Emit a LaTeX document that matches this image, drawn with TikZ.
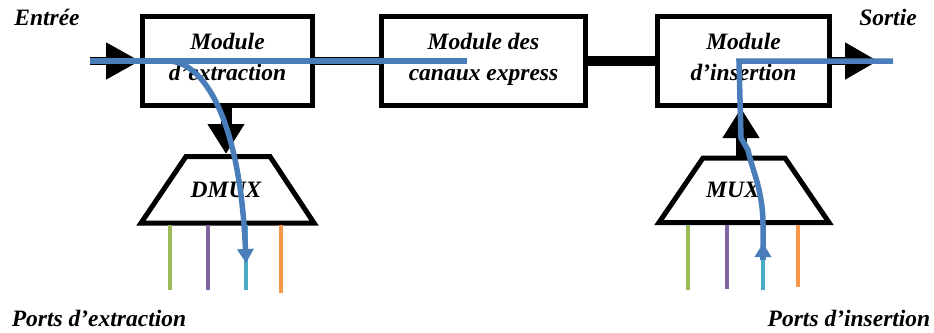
\documentclass[tikz,border=0pt]{standalone}
\usepackage{fontspec}
\setmainfont{Liberation Serif}
\usepackage{tikz}
\usetikzlibrary{arrows.meta}
\usepackage{xcolor}

\definecolor{flowblue}{HTML}{4A7EBB}
\definecolor{portgreen}{HTML}{9BBB59}
\definecolor{portpurple}{HTML}{8064A2}
\definecolor{portcyan}{HTML}{4BACC6}
\definecolor{portorange}{HTML}{F79646}

\begin{document}
\begin{tikzpicture}[x=1pt, y=-1pt,
    lbl/.style={font=\fontsize{23.5}{31}\selectfont\bfseries\itshape},
    modbox/.style={lbl, draw, line width=5pt, inner sep=0pt, align=center, minimum height=89pt,
      text depth=9pt},
    muxshape/.style={draw, line width=5pt, line join=miter},
    bigarrow/.style={line width=11pt, -{Triangle[width=35pt,length=30pt]}},
    fatline/.style={line width=#1},
    port/.style={line width=4pt},
    flow/.style={line width=5.5pt, flowblue},
    flowtip/.style={-{Triangle[width=16pt,length=14pt]}}]
  \useasboundingbox (0,0) rectangle (934,332);

  % Nodes
  \node[modbox, minimum width=170pt] (ext) at (227.5,61) {Module\\d’extraction};
  \node[modbox, minimum width=204pt] (exp) at (483.5,61) {Module des\\canaux express};
  \node[modbox, minimum width=172pt] (ins) at (743.5,61) {Module\\d’insertion};

  \draw[muxshape] (186,156.5) -- (270,156.5) -- (314,223) -- (141,223) -- cycle;
  \node[lbl] (dmux) at (226,190) {DMUX};
  \draw[muxshape] (703,158) -- (785,158) -- (829,222.5) -- (659,222.5) -- cycle;
  \node[lbl] (mux) at (733,190) {MUX};

  \node[lbl] (entree) at (47,17) {Entrée};
  \node[lbl] (sortie) at (888,17) {Sortie};
  \node[lbl] (pext) at (99,318) {Ports d’extraction};
  \node[lbl] (pins) at (849,318) {Ports d’insertion};

  \coordinate (in) at (90,61);
  \coordinate (out) at (878,61);
  \coordinate (dmuxtop) at (226,154);
  \coordinate (muxtop) at (741,157);
  \coordinate (insbot) at (741,108);

  % Ports
  \coordinate (e1) at (170,225); \coordinate (e1b) at (170,290);
  \coordinate (e2) at (208,225); \coordinate (e2b) at (208,290);
  \coordinate (e3) at (246,225); \coordinate (e3b) at (246,290);
  \coordinate (e4) at (281,225); \coordinate (e4b) at (281,293);
  \coordinate (i1) at (688,225); \coordinate (i1b) at (688,290);
  \coordinate (i2) at (727,225); \coordinate (i2b) at (727,289);
  \coordinate (i3) at (763,225); \coordinate (i3b) at (763,290);
  \coordinate (i4) at (798,225); \coordinate (i4b) at (798,287);

  % Edges
  \draw[line width=8pt, -{Triangle[width=35pt,length=34pt]}] (in) -- (140,61);
  \draw[fatline=8pt] (ext) -- (exp);
  \draw[fatline=10pt] (exp) -- (ins);
  \draw[line width=8pt, -{Triangle[width=35pt,length=33pt]}] (ins.east) -- (out);
  \draw[bigarrow] (ext.south -| dmuxtop) -- (dmuxtop);
  \draw[bigarrow] (muxtop) -- (insbot);

  \draw[port, portgreen] (e1) -- (e1b);
  \draw[port, portpurple] (e2) -- (e2b);
  \draw[port, portcyan] (e3) -- (e3b);
  \draw[port, portorange] (e4) -- (e4b);
  \draw[port, portgreen] (i1) -- (i1b);
  \draw[port, portpurple] (i2) -- (i2b);
  \draw[port, portcyan] (i3) -- (i3b);
  \draw[port, portorange] (i4) -- (i4b);

  % Wavelength paths
  \draw[flow] (in) -- (467,61);
  \draw[flow, flowtip] (168,61) .. controls (202,61) and (240,115) .. (246,263);
  \draw[flow, flowtip] (763,260) -- (763,243);
  \draw[flow] (763,250) -- (763,225) .. controls (763,190) and (752,170) .. (748,150)
    -- (741,138) -- (739,61) -- (893,61);
\end{tikzpicture}
\end{document}
